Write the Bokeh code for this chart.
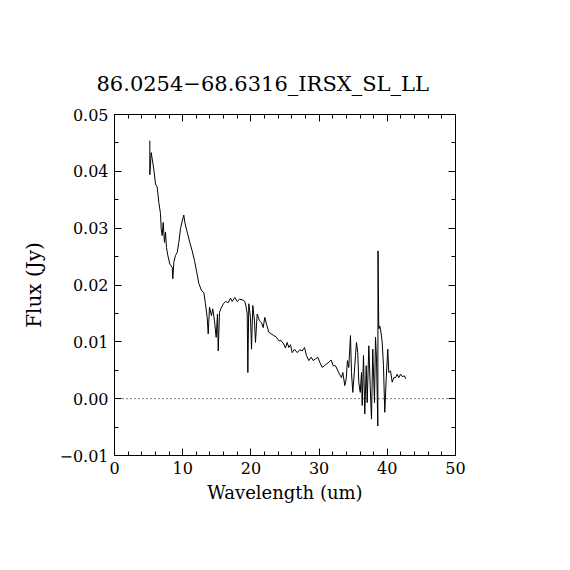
from bokeh.plotting import figure
from bokeh.models import LinearAxis, FixedTicker, CustomJSTickFormatter, Span, Range1d
from bokeh.embed import file_html
from bokeh.resources import INLINE

title_text = "86.0254\u221268.6316_IRSX_SL_LL"
x_label = "Wavelength (um)"
y_label = "Flux (Jy)"
x_ticks = [0, 10, 20, 30, 40, 50]
x_minor = [2, 4, 6, 8, 12, 14, 16, 18, 22, 24, 26, 28, 32, 34, 36, 38, 42, 44, 46, 48]
y_ticks = [-0.01, 0.0, 0.01, 0.02, 0.03, 0.04, 0.05]
y_minor = [-0.005, 0.005, 0.015, 0.025, 0.035, 0.045]

wavelength = [
    5.18, 5.18, 5.38, 5.53, 5.76, 6.01, 6.26, 6.50, 6.74, 6.85, 6.99, 7.14, 7.33, 7.48, 7.62,
    7.82, 8.11, 8.46, 8.55, 8.70, 8.94, 9.19, 9.43, 9.68, 9.93, 10.16, 10.31, 10.66, 11.04,
    11.39, 11.73, 12.02, 12.36, 12.76, 13.09, 13.34, 13.59, 13.74, 13.93, 14.22, 14.41, 14.66,
    14.91, 15.10, 15.21, 15.40, 15.69, 16.03, 16.28, 16.67, 17.01, 17.26, 17.64, 17.99, 18.33,
    18.72, 19.11, 19.31, 19.46, 19.55, 19.69, 19.94, 20.09, 20.28, 20.53, 20.67, 20.92, 21.26,
    21.55, 21.80, 22.04, 22.29, 22.62, 22.98, 23.36, 23.75, 24.09, 24.44, 24.82, 25.07, 25.32,
    25.56, 25.81, 26.06, 26.39, 26.79, 27.17, 27.52, 27.86, 28.15, 28.49, 28.84, 29.13, 29.47,
    29.81, 30.10, 30.45, 30.79, 31.09, 31.42, 31.77, 32.07,
    32.40, 32.99, 33.28, 33.48, 33.77, 33.97, 34.16, 34.35, 34.60, 34.75, 34.94, 35.09, 35.34,
    35.48, 35.67, 35.82, 36.03, 36.22, 36.32, 36.51, 36.70, 36.91, 37.05, 37.29, 37.49, 37.68,
    37.87, 38.12, 38.27, 38.42, 38.61, 38.64, 38.75, 38.90, 39.11, 39.25, 39.44, 39.63, 39.84,
    40.07, 40.22, 40.47, 40.72, 40.95,
    41.20, 41.45, 41.69, 41.94, 42.18, 42.52, 42.71,
]
flux = [
    0.0454, 0.0394, 0.0433, 0.0422, 0.0404, 0.0378, 0.0372, 0.0345, 0.0326, 0.0299, 0.0287,
    0.0310, 0.0275, 0.0293, 0.0266, 0.0252, 0.0237, 0.0231, 0.0211, 0.0240, 0.0252, 0.0257,
    0.0275, 0.0299, 0.0313, 0.0323, 0.0310, 0.0293, 0.0275, 0.0260, 0.0243, 0.0225, 0.0203,
    0.0190, 0.0187, 0.0167, 0.0143, 0.0114, 0.0161, 0.0146, 0.0158, 0.0137, 0.0108, 0.0149,
    0.0084, 0.0152, 0.0161, 0.0168, 0.0171, 0.0169, 0.0177, 0.0171, 0.0178, 0.0171, 0.0175,
    0.0174, 0.0171, 0.0161, 0.0149, 0.0046, 0.0167, 0.0143, 0.0087, 0.0164, 0.0137, 0.0099,
    0.0149, 0.0137, 0.0134, 0.0125, 0.0143, 0.0131, 0.0117, 0.0114, 0.0111, 0.0108, 0.0102,
    0.0102, 0.0096, 0.0089, 0.0099, 0.0090, 0.0095, 0.0081, 0.0087, 0.0081, 0.0086, 0.0084,
    0.0090, 0.0076, 0.0067, 0.0073, 0.0067, 0.0070, 0.0073, 0.0064, 0.0055, 0.0058, 0.0061,
    0.0064, 0.0068, 0.0058,
    0.0058, 0.0043, 0.0037, 0.0046, 0.0023, 0.0035, 0.0067, 0.0055, 0.0111, 0.0046, 0.0011,
    0.0035, 0.0076, 0.0099, 0.0081, 0.0029, 0.0011, 0.0046, -0.0012, 0.0076, -0.0027, 0.0058,
    -0.0007, 0.0093, 0.0023, -0.0036, 0.0087, -0.0007, 0.0108, 0.0070, -0.0048, 0.0260, 0.0123,
    0.0128, 0.0114, 0.0099, 0.0058, -0.0024, 0.0035, 0.0087, 0.0046, 0.0049, 0.0029, 0.0037,
    0.0037, 0.0043, 0.0037, 0.0043, 0.0039, 0.0040, 0.0035,
]

FONT = "DejaVu Serif"

p = figure(width=562, height=562, x_range=Range1d(0, 50), y_range=Range1d(-0.01, 0.05),
           output_backend="svg", toolbar_location=None,
           min_border_left=114, min_border_right=107, min_border_top=114, min_border_bottom=107)

p.title.text = title_text
p.title.align = "left"
p.title.offset = -18
p.title.text_font = FONT
p.title.text_font_style = "normal"
p.title.text_font_size = "21px"
p.title.text_color = "black"
p.title.standoff = 37

p.grid.visible = False
p.outline_line_color = "black"
p.outline_line_width = 1
p.background_fill_color = "white"
p.border_fill_color = "white"

xt = FixedTicker(ticks=x_ticks, minor_ticks=x_minor)
yt = FixedTicker(ticks=y_ticks, minor_ticks=y_minor)
yfmt = CustomJSTickFormatter(code="return (tick < -1e-9 ? '\\u2212' : '') + Math.abs(tick).toFixed(2);")
blank = CustomJSTickFormatter(code="return '';")

bottom = p.xaxis[0]
left = p.yaxis[0]
bottom.ticker = xt
left.ticker = yt
left.formatter = yfmt
bottom.axis_label = x_label
left.axis_label = y_label

top = LinearAxis(ticker=xt, formatter=blank, major_label_standoff=0)
right = LinearAxis(ticker=yt, formatter=blank, major_label_standoff=0)
p.add_layout(top, "above")
p.add_layout(right, "right")

for ax in [bottom, left, top, right]:
    ax.major_tick_in = 7
    ax.major_tick_out = 0
    ax.minor_tick_in = 4
    ax.minor_tick_out = 0
    ax.axis_line_color = "black"
    ax.major_tick_line_color = "black"
    ax.minor_tick_line_color = "black"
    ax.major_label_text_font = FONT
    ax.major_label_text_color = "black"
    ax.axis_label_text_font = FONT
    ax.axis_label_text_font_style = "normal"
    ax.axis_label_text_color = "black"

for ax in [bottom, left]:
    ax.major_label_text_font_size = "16px"
    ax.major_label_standoff = 6

bottom.axis_label_text_font_size = "18px"
bottom.axis_label_standoff = 5
left.axis_label_text_font_size = "20px"
left.axis_label_standoff = 10

p.add_layout(Span(location=0, dimension="width", line_color="black", line_width=1, line_dash="1 3"))
p.line(wavelength, flux, line_color="black", line_width=1)

open("out.html", "w").write(file_html(p, INLINE))
